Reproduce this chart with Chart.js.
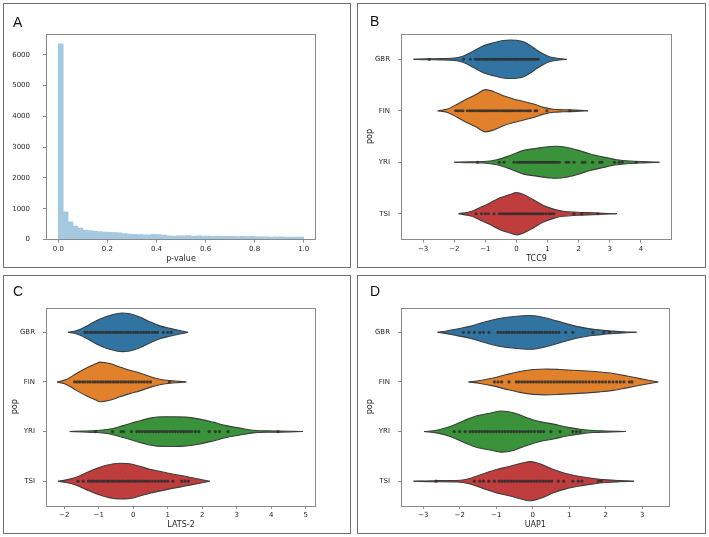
<!DOCTYPE html>
<html>
<head>
<meta charset="utf-8">
<script src="https://cdn.jsdelivr.net/npm/chart.js@4"></script>
<style>
  body { margin: 0; background: #fff; }
  #fig { position: relative; width: 709px; height: 537px; overflow: hidden; }
  .panel { position: absolute; border: 1px solid #6e6e6e; box-sizing: border-box; }
  .panel canvas { position: absolute; left: -1px; top: -1px; }
  .tag { position: absolute; font: 14px "Liberation Sans", Arial, sans-serif; line-height: 14px; color: #111; }
</style>
</head>
<body>
<div id="fig"></div>
<script>
// ---- panel A: histogram of p-values (bin starts, width 0.02) ----
const pBinStart = [0.00, 0.02, 0.04, 0.06, 0.08, 0.10, 0.12, 0.14, 0.16, 0.18,
                   0.20, 0.22, 0.24, 0.26, 0.28, 0.30, 0.32, 0.34, 0.36, 0.38,
                   0.40, 0.42, 0.44, 0.46, 0.48, 0.50, 0.52, 0.54, 0.56, 0.58,
                   0.60, 0.62, 0.64, 0.66, 0.68, 0.70, 0.72, 0.74, 0.76, 0.78,
                   0.80, 0.82, 0.84, 0.86, 0.88, 0.90, 0.92, 0.94, 0.96, 0.98];
const pCounts = [6360, 900, 575, 440, 370, 310, 290, 270, 255, 240,
                 235, 225, 220, 190, 175, 170, 160, 150, 155, 165,
                 160, 140, 120, 115, 120, 120, 125, 115, 120, 115,
                 110, 105, 110, 105, 100, 100, 95, 100, 95, 105,
                 90, 85, 90, 80, 90, 85, 80, 75, 80, 75];
const pTicksX = [0, 0.2, 0.4, 0.6, 0.8, 1.0];
const pTicksY = [0, 1000, 2000, 3000, 4000, 5000, 6000];

// ---- violin panels ----
const pops = ["GBR", "FIN", "YRI", "TSI"];

// TCC9 (panel B): outline x, half-width (category units), observations
const tcc9X = [
  [-3.31, -2.9, -2.4, -1.92, -1.7, -1.38, -1.06, -0.74, -0.42, -0.2, 0.0, 0.23, 0.44, 0.65, 0.87, 1.08, 1.3, 1.62],
  [-2.53, -2.24, -1.92, -1.6, -1.28, -1.0, -0.74, -0.42, -0.1, 0.23, 0.55, 0.87, 1.19, 1.5, 1.94, 2.3],
  [-2.0, -1.5, -1.06, -0.63, -0.2, 0.23, 0.65, 1.08, 1.3, 1.6, 1.94, 2.37, 2.8, 3.23, 3.65, 4.08, 4.6],
  [-1.86, -1.49, -1.17, -0.85, -0.53, -0.2, 0.0, 0.23, 0.55, 0.87, 1.19, 1.5, 1.94, 2.48, 3.23]
];
const tcc9W = [
  [0, 0.01, 0.012, 0.03, 0.065, 0.16, 0.26, 0.32, 0.365, 0.375, 0.37, 0.34, 0.27, 0.18, 0.10, 0.045, 0.02, 0],
  [0, 0.03, 0.12, 0.23, 0.32, 0.41, 0.375, 0.29, 0.23, 0.18, 0.13, 0.065, 0.03, 0.02, 0.012, 0],
  [0, 0.01, 0.015, 0.05, 0.13, 0.23, 0.27, 0.305, 0.31, 0.29, 0.24, 0.16, 0.10, 0.05, 0.025, 0.012, 0],
  [0, 0.04, 0.12, 0.21, 0.31, 0.375, 0.41, 0.375, 0.27, 0.16, 0.09, 0.05, 0.03, 0.018, 0]
];
const tcc9Obs = [
  [-2.8, -1.7, -1.48, -1.32, -1.25, -1.18, -1.1, -1.03, -0.96, -0.9, -0.82, -0.75, -0.69, -0.62, -0.55, -0.49, -0.42, -0.36, -0.3, -0.23, -0.17, -0.1, -0.04, 0.02, 0.09, 0.15, 0.22, 0.28, 0.35, 0.41, 0.48, 0.55, 0.62, 0.7],
  [-1.95, -1.88, -1.8, -1.72, -1.58, -1.5, -1.43, -1.36, -1.28, -1.21, -1.14, -1.07, -1.0, -0.93, -0.86, -0.79, -0.72, -0.65, -0.58, -0.5, -0.43, -0.36, -0.29, -0.22, -0.15, -0.08, 0.0, 0.07, 0.14, 0.22, 0.3, 0.38, 0.45, 0.6, 0.65, 0.98, 1.72],
  [-1.25, -0.55, -0.4, -0.08, 0.02, 0.1, 0.17, 0.24, 0.31, 0.38, 0.45, 0.52, 0.6, 0.67, 0.74, 0.81, 0.88, 0.95, 1.02, 1.09, 1.16, 1.23, 1.3, 1.38, 1.6, 1.68, 1.85, 2.12, 2.2, 2.45, 2.68, 2.75, 3.15, 3.3, 3.4, 3.85],
  [-1.3, -1.12, -1.0, -0.9, -0.72, -0.55, -0.48, -0.41, -0.34, -0.27, -0.2, -0.13, -0.06, 0.01, 0.08, 0.15, 0.22, 0.29, 0.36, 0.43, 0.5, 0.57, 0.64, 0.71, 0.78, 0.86, 0.95, 1.05, 1.12, 1.2, 1.85, 2.1, 2.62]
];

// LATS-2 (panel C)
const lats2X = [
  [-1.89, -1.65, -1.36, -1.07, -0.78, -0.49, -0.32, -0.1, 0.19, 0.48, 0.77, 1.06, 1.35, 1.59],
  [-2.21, -1.94, -1.65, -1.36, -1.07, -0.97, -0.68, -0.39, -0.1, 0.19, 0.48, 0.77, 1.06, 1.35, 1.54],
  [-1.84, -1.45, -1.07, -0.68, -0.29, 0.1, 0.48, 0.86, 1.15, 1.54, 1.93, 2.31, 2.7, 3.09, 3.47, 3.86, 4.25, 4.92],
  [-2.18, -1.94, -1.65, -1.36, -1.07, -0.78, -0.39, -0.1, 0.19, 0.48, 0.77, 1.06, 1.35, 1.64, 1.93, 2.22]
];
const lats2W = [
  [0, 0.03, 0.12, 0.235, 0.32, 0.375, 0.39, 0.375, 0.31, 0.215, 0.13, 0.08, 0.035, 0],
  [0, 0.05, 0.17, 0.28, 0.37, 0.40, 0.37, 0.30, 0.235, 0.18, 0.11, 0.055, 0.027, 0.012, 0],
  [0, 0.01, 0.02, 0.05, 0.12, 0.2, 0.27, 0.3, 0.3, 0.29, 0.25, 0.19, 0.12, 0.07, 0.027, 0.014, 0.012, 0],
  [0, 0.027, 0.08, 0.17, 0.255, 0.32, 0.36, 0.35, 0.3, 0.24, 0.2, 0.155, 0.12, 0.08, 0.04, 0]
];
const lats2Obs = [
  [-1.4, -1.33, -1.25, -1.18, -1.1, -1.03, -0.95, -0.88, -0.8, -0.73, -0.66, -0.58, -0.51, -0.44, -0.37, -0.3, -0.22, -0.15, -0.08, 0.0, 0.07, 0.14, 0.22, 0.3, 0.38, 0.46, 0.55, 0.63, 0.7, 0.87, 1.0, 1.1],
  [-1.7, -1.62, -1.55, -1.47, -1.4, -1.32, -1.25, -1.17, -1.1, -1.03, -0.95, -0.88, -0.8, -0.73, -0.66, -0.58, -0.51, -0.44, -0.36, -0.29, -0.22, -0.14, -0.07, 0.0, 0.08, 0.16, 0.24, 0.32, 0.41, 0.5, 1.05],
  [-1.1, -0.6, -0.35, -0.28, -0.05, 0.1, 0.18, 0.26, 0.34, 0.42, 0.5, 0.58, 0.66, 0.74, 0.82, 0.9, 0.98, 1.06, 1.14, 1.22, 1.3, 1.38, 1.46, 1.54, 1.62, 1.7, 1.8, 1.9, 2.2, 2.38, 2.5, 2.75, 4.2],
  [-1.6, -1.45, -1.3, -1.22, -1.15, -1.07, -1.0, -0.92, -0.85, -0.77, -0.7, -0.62, -0.55, -0.47, -0.4, -0.32, -0.25, -0.17, -0.1, -0.02, 0.06, 0.14, 0.22, 0.3, 0.38, 0.46, 0.55, 0.64, 0.73, 0.82, 0.91, 1.0, 1.15, 1.4, 1.5, 1.6]
];

// UAP1 (panel D)
const uap1X = [
  [-2.61, -2.36, -2.08, -1.72, -1.35, -0.99, -0.62, -0.26, -0.1, 0.11, 0.47, 0.84, 1.2, 1.57, 1.94, 2.21, 2.48, 2.85],
  [-1.76, -1.44, -1.08, -0.71, -0.35, 0.02, 0.38, 0.75, 1.11, 1.48, 1.84, 2.21, 2.58, 2.94, 3.21, 3.44],
  [-2.98, -2.63, -2.26, -1.9, -1.53, -1.17, -0.85, -0.53, -0.16, 0.2, 0.57, 0.93, 1.3, 1.66, 2.0, 2.55],
  [-3.27, -2.7, -2.08, -1.72, -1.35, -0.99, -0.62, -0.26, -0.07, 0.2, 0.57, 0.93, 1.3, 1.66, 2.03, 2.39, 2.78]
];
const uap1W = [
  [0, 0.027, 0.067, 0.12, 0.2, 0.27, 0.31, 0.335, 0.34, 0.33, 0.27, 0.19, 0.12, 0.07, 0.04, 0.025, 0.012, 0],
  [0, 0.03, 0.08, 0.15, 0.21, 0.25, 0.26, 0.25, 0.235, 0.22, 0.2, 0.17, 0.12, 0.067, 0.03, 0],
  [0, 0.027, 0.1, 0.215, 0.32, 0.37, 0.415, 0.38, 0.28, 0.2, 0.15, 0.09, 0.047, 0.02, 0.012, 0],
  [0, 0.01, 0.015, 0.055, 0.15, 0.235, 0.3, 0.37, 0.395, 0.35, 0.235, 0.15, 0.094, 0.054, 0.027, 0.012, 0]
];
const uap1Obs = [
  [-1.9, -1.75, -1.6, -1.45, -1.35, -1.2, -0.95, -0.88, -0.8, -0.72, -0.65, -0.57, -0.5, -0.42, -0.35, -0.27, -0.2, -0.12, -0.05, 0.03, 0.1, 0.18, 0.25, 0.33, 0.4, 0.48, 0.56, 0.64, 0.72, 0.9, 1.1, 1.65, 1.95, 2.1],
  [-1.05, -0.95, -0.85, -0.65, -0.45, -0.38, -0.3, -0.22, -0.14, -0.06, 0.02, 0.1, 0.18, 0.26, 0.34, 0.42, 0.5, 0.58, 0.66, 0.74, 0.82, 0.9, 0.98, 1.06, 1.14, 1.22, 1.3, 1.38, 1.46, 1.55, 1.64, 1.73, 1.82, 1.91, 2.0, 2.1, 2.2, 2.3, 2.4, 2.5, 2.65, 2.72],
  [-2.15, -2.0, -1.85, -1.72, -1.64, -1.56, -1.48, -1.4, -1.32, -1.24, -1.16, -1.08, -1.0, -0.92, -0.84, -0.76, -0.68, -0.6, -0.52, -0.44, -0.36, -0.28, -0.2, -0.12, -0.04, 0.05, 0.15, 0.22, 0.3, 0.5, 0.75, 1.1, 1.2, 1.3],
  [-2.65, -1.6, -1.45, -1.35, -1.2, -1.05, -0.92, -0.84, -0.76, -0.68, -0.6, -0.52, -0.44, -0.36, -0.28, -0.2, -0.12, -0.04, 0.04, 0.12, 0.2, 0.28, 0.36, 0.44, 0.52, 0.7, 0.85, 1.1, 1.25, 1.35, 1.8, 1.88]
];
const tcc9Ticks = [-3, -2, -1, 0, 1, 2, 3, 4];
const lats2Ticks = [-2, -1, 0, 1, 2, 3, 4, 5];
const uap1Ticks = [-3, -2, -1, 0, 1, 2, 3];

// ---- styling / layout ----
const violinColors = ["#3274a1", "#e1812c", "#3a923a", "#c03d3e"];
const edgeColor = "#3d3d3d";
const textColor = "#262626";
const frameColor = "#8a8a8a";
const YW = 40, XH = 28;

Chart.defaults.font.family = "'DejaVu Sans', sans-serif";
Chart.defaults.font.size = 7;
Chart.defaults.color = textColor;
Chart.defaults.animation = false;

const framePlugin = {
  id: "frame",
  afterDatasetsDraw(chart) {
    const a = chart.chartArea, ctx = chart.ctx;
    ctx.save();
    ctx.strokeStyle = frameColor;
    ctx.lineWidth = 1;
    ctx.strokeRect(Math.round(a.left) + 0.5, Math.round(a.top) + 0.5,
                   Math.round(a.right - a.left) - 1, Math.round(a.bottom - a.top) - 1);
    ctx.restore();
  }
};

function makePanel(box, plot, letter, tagPos) {
  const fig = document.getElementById("fig");
  const div = document.createElement("div");
  div.className = "panel";
  div.style.left = box[0] + "px";
  div.style.top = box[1] + "px";
  div.style.width = (box[2] - box[0]) + "px";
  div.style.height = (box[3] - box[1]) + "px";
  const cv = document.createElement("canvas");
  cv.width = box[2] - box[0];
  cv.height = box[3] - box[1];
  cv.style.width = cv.width + "px";
  cv.style.height = cv.height + "px";
  div.appendChild(cv);
  fig.appendChild(div);
  const tag = document.createElement("div");
  tag.className = "tag";
  tag.textContent = letter;
  tag.style.left = tagPos[0] + "px";
  tag.style.top = tagPos[1] + "px";
  fig.appendChild(tag);
  const padding = {
    left: plot[0] - box[0] - YW,
    top: plot[1] - box[1],
    right: box[2] - plot[2],
    bottom: box[3] - plot[3] - XH
  };
  return { cv, padding };
}

function tickGrid() {
  return { display: true, drawOnChartArea: false, drawTicks: true, tickLength: 3, color: frameColor, offset: false };
}

// panel A
(function () {
  const p = makePanel([3, 3, 351, 268], [46, 34, 316, 239.5], "A", [13, 15]);
  new Chart(p.cv, {
    type: "bar",
    data: {
      datasets: [{
        data: pBinStart.map((s, i) => ({ x: s + 0.01, y: pCounts[i] })),
        backgroundColor: "#a5c9e1",
        borderWidth: 0,
        barPercentage: 1,
        categoryPercentage: 1
      }]
    },
    options: {
      responsive: false,
      layout: { padding: p.padding },
      plugins: { legend: { display: false }, tooltip: { enabled: false } },
      scales: {
        x: {
          type: "linear", min: -0.05, max: 1.05, offset: false,
          afterBuildTicks: s => { s.ticks = pTicksX.map(v => ({ value: v })); },
          afterFit: s => { s.height = XH; },
          ticks: { callback: v => v.toFixed(1), padding: 2, maxRotation: 0 },
          grid: tickGrid(), border: { display: false },
          title: { display: true, text: "p-value", font: { size: 8 }, padding: { top: 0, bottom: 4 } }
        },
        y: {
          min: 0, max: 6680,
          afterBuildTicks: s => { s.ticks = pTicksY.map(v => ({ value: v })); },
          afterFit: s => { s.width = YW; },
          ticks: { padding: 13, callback: v => String(v) },
          grid: tickGrid(), border: { display: false }
        }
      }
    },
    plugins: [framePlugin]
  });
})();

function violinChart(p, xs, ws, obs, xmin, xmax, xticks, xlabel) {
  const datasets = [];
  obs.forEach((o, i) => {
    datasets.push({
      data: o.map(v => ({ x: v, y: i })),
      backgroundColor: "rgba(45,45,45,0.85)",
      borderWidth: 0, pointRadius: 1.6, showLine: false, order: 0
    });
  });
  pops.forEach((name, i) => {
    const up = xs[i].map((x, k) => ({ x, y: i - ws[i][k] }));
    const lo = xs[i].map((x, k) => ({ x, y: i + ws[i][k] }));
    datasets.push({
      data: up, showLine: true, fill: false, pointRadius: 0,
      borderColor: edgeColor, borderWidth: 1.1, cubicInterpolationMode: "monotone", order: 1
    });
    datasets.push({
      data: lo, showLine: true, fill: "-1", backgroundColor: violinColors[i], pointRadius: 0,
      borderColor: edgeColor, borderWidth: 1.1, cubicInterpolationMode: "monotone", order: 1
    });
  });
  new Chart(p.cv, {
    type: "scatter",
    data: { datasets },
    options: {
      responsive: false,
      layout: { padding: p.padding },
      plugins: { legend: { display: false }, tooltip: { enabled: false } },
      scales: {
        x: {
          type: "linear", min: xmin, max: xmax,
          afterBuildTicks: s => { s.ticks = xticks.map(v => ({ value: v })); },
          afterFit: s => { s.height = XH; },
          ticks: { padding: 2, maxRotation: 0, callback: v => String(v).replace("-", "\u2212") },
          grid: tickGrid(), border: { display: false },
          title: { display: true, text: xlabel, font: { size: 8 }, padding: { top: 0, bottom: 4 } }
        },
        y: {
          type: "linear", min: -0.5, max: 3.5, reverse: true,
          afterBuildTicks: s => { s.ticks = pops.map((n, i) => ({ value: i })); },
          afterFit: s => { s.width = YW; },
          ticks: { padding: 8, callback: v => pops[v] },
          grid: tickGrid(), border: { display: false },
          title: { display: true, text: "pop", font: { size: 8 }, padding: { top: 4, bottom: 0 } }
        }
      }
    },
    plugins: [framePlugin]
  });
}

violinChart(makePanel([357, 3, 706, 268], [401, 33.5, 672, 239.5], "B", [370, 13.5]),
            tcc9X, tcc9W, tcc9Obs, -3.71, 5.0, tcc9Ticks, "TCC9");
violinChart(makePanel([3, 275, 351, 534], [46, 307.5, 316, 506], "C", [13, 283.5]),
            lats2X, lats2W, lats2Obs, -2.53, 5.3, lats2Ticks, "LATS-2");
violinChart(makePanel([357, 275, 706, 534], [401, 307.5, 669.5, 506], "D", [370, 283.5]),
            uap1X, uap1W, uap1Obs, -3.61, 3.75, uap1Ticks, "UAP1");
</script>
</body>
</html>
